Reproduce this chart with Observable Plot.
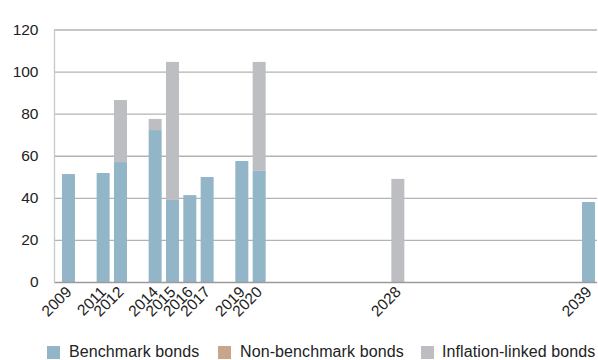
<!DOCTYPE html>
<html>
<head>
<meta charset="utf-8">
<script src="https://cdn.jsdelivr.net/npm/d3@7"></script>
<script src="https://cdn.jsdelivr.net/npm/@observablehq/plot@0.6"></script>
<style>
  body { margin: 0; background: #fff; font-family: "Liberation Sans", Arial, sans-serif; }
  #wrap { position: relative; width: 598px; height: 360px; }
  .legend { position: absolute; left: 0; top: 340px; height: 24px; width: 598px; font-size: 16px; letter-spacing: 0.1px; color: #222; }
  .legend span.sw { position: absolute; top: 6px; width: 13px; height: 13px; }
  .legend span.lb { position: absolute; top: 0; line-height: 24px; white-space: nowrap; }
</style>
</head>
<body>
<div id="wrap"></div>
<script>
const years = [2009, 2011, 2012, 2014, 2015, 2016, 2017, 2019, 2020, 2028, 2039];
const benchmark    = [51.3, 51.8, 57.0, 72.2, 39.0, 41.3, 49.9, 57.5, 52.8, 0, 38.0];
const nonBenchmark = [0, 0, 0, 0, 0, 0, 0, 0, 0, 0, 0];
const inflation    = [0, 0, 29.5, 5.3, 65.6, 0, 0, 0, 51.8, 49.0, 0];
const seriesNames = ["Benchmark bonds", "Non-benchmark bonds", "Inflation-linked bonds"];
const seriesColors = ["#93b5c8", "#c7a68b", "#bdbec2"];
const yTicks = [0, 20, 40, 60, 80, 100, 120];
const allYears = d3.range(2009, 2040);

const data = [];
years.forEach((y, i) => {
  data.push({year: y, series: seriesNames[0], value: benchmark[i]});
  data.push({year: y, series: seriesNames[1], value: nonBenchmark[i]});
  data.push({year: y, series: seriesNames[2], value: inflation[i]});
});

const chart = Plot.plot({
  width: 598,
  height: 338,
  marginLeft: 54,
  marginRight: 1,
  marginTop: 29.5,
  marginBottom: 56,
  style: {fontFamily: "'Liberation Sans', Arial, sans-serif", fontSize: "15px", color: "#222", background: "#fff"},
  x: {type: "band", domain: allYears, range: [59.8, 597.2], paddingInner: 0.25, paddingOuter: 0.125, round: false},
  y: {domain: [0, 120]},
  color: {domain: seriesNames, range: seriesColors},
  marks: [
    Plot.ruleY(yTicks.filter(d => d > 0), {stroke: "#b3b3b3", strokeWidth: 1.3}),
    Plot.barY(data, {x: "year", y: "value", fill: "series", order: seriesNames}),
    Plot.ruleY([0], {stroke: "#9a9a9a", strokeWidth: 1.3}),
    Plot.frame({anchor: "left", stroke: "#c8c8c8", strokeWidth: 1.3}),
    Plot.axisY({ticks: yTicks, tickSize: 0, tickPadding: 16, fontSize: 15.5, label: null}),
    Plot.axisX({ticks: years, tickFormat: d => String(d), tickSize: 0, tickRotate: -45, tickPadding: 7, fontSize: 15.5, label: null})
  ]
});

const wrap = document.getElementById("wrap");
wrap.appendChild(chart);

const legend = document.createElement("div");
legend.className = "legend";
const swX = [47, 218, 421];
const lbX = [69, 240, 442];
seriesNames.forEach((n, i) => {
  const sw = document.createElement("span");
  sw.className = "sw";
  sw.style.left = swX[i] + "px";
  sw.style.background = seriesColors[i];
  legend.appendChild(sw);
  const lb = document.createElement("span");
  lb.className = "lb";
  lb.style.left = lbX[i] + "px";
  lb.textContent = n;
  legend.appendChild(lb);
});
wrap.appendChild(legend);
</script>
</body>
</html>
